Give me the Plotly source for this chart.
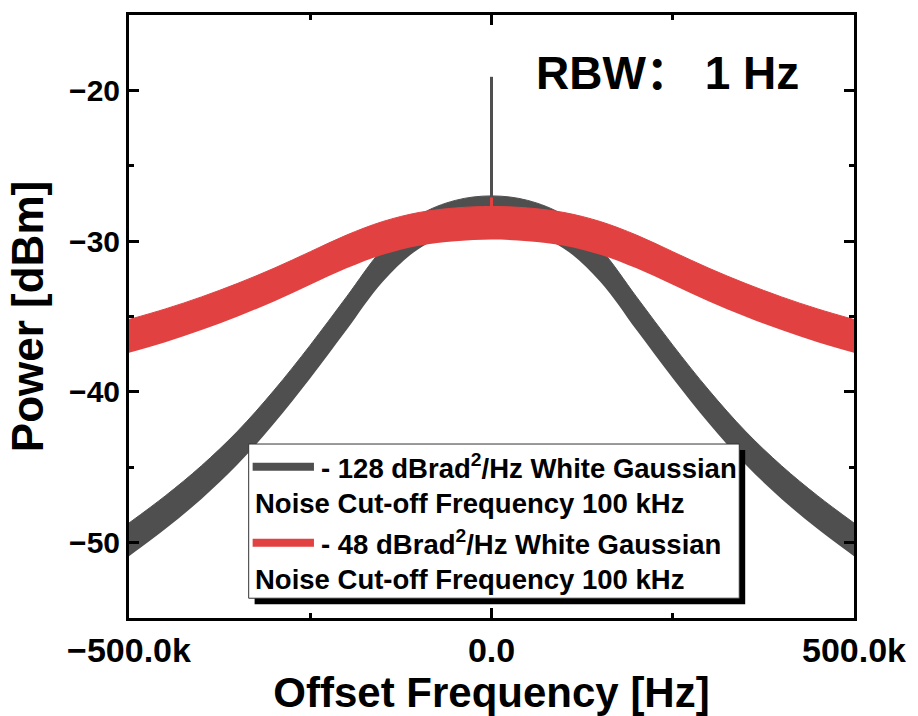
import plotly.graph_objects as go

# Offset frequency grid (kHz) and centre level of each noisy trace (dBm)
freq_khz = [-500, -450, -400, -350, -300, -250, -200, -150, -100, -50, 0,
            50, 100, 150, 200, 250, 300, 350, 400, 450, 500]
grey_level = [-49.8, -48.0, -46.0, -43.7, -41.0, -38.0, -34.8, -31.6, -29.4, -28.4, -28.1,
              -28.4, -29.4, -31.6, -34.8, -38.0, -41.0, -43.7, -46.0, -48.0, -49.8]
red_level = [-36.3, -35.6, -34.8, -33.9, -32.9, -31.8, -30.7, -29.8, -29.2, -28.9, -28.8,
             -28.9, -29.2, -29.8, -30.7, -31.8, -32.9, -33.9, -34.8, -35.6, -36.3]
# Peak-to-peak spread of the measured noise (dB)
grey_spread = 2.2
red_spread = 2.2
# Carrier spike at zero offset (dBm)
grey_spike_peak = -19.1
red_spike_peak = -27.1

# Axis ticks
x_tickvals = [-500000, 0, 500000]
x_ticktext = ["\u2212500.0k", "0.0", "500.0k"]
y_tickvals = [-50, -40, -30, -20]
y_ticktext = ["\u221250", "\u221240", "\u221230", "\u221220"]

legend_lines = [
    "- 128 dBrad<sup>2</sup>/Hz White Gaussian",
    "Noise Cut-off Frequency 100 kHz",
    "- 48 dBrad<sup>2</sup>/Hz White Gaussian",
    "Noise Cut-off Frequency 100 kHz",
]

GREY = "#4f4f4f"
RED = "#e24141"
FONT = "Liberation Sans, Arial, Noto Sans CJK SC, sans-serif"

W, H = 918, 716
L, R, T, B = 129, 862, 13, 623  # plot area in pixels


def px(x):
    return (x - L) / (R - L)


def py(y):
    return (B - y) / (B - T)


freq_hz = [f * 1000 for f in freq_khz]

fig = go.Figure()


def add_band(levels, spread, color):
    lower = [v - spread / 2 for v in levels]
    upper = [v + spread / 2 for v in levels]
    fig.add_trace(go.Scatter(x=freq_hz, y=lower, mode="lines",
                             line=dict(width=0, color=color, shape="spline"),
                             hoverinfo="skip", showlegend=False))
    fig.add_trace(go.Scatter(x=freq_hz, y=upper, mode="lines", fill="tonexty",
                             fillcolor=color,
                             line=dict(width=1, color=color, shape="spline"),
                             hoverinfo="skip", showlegend=False))


def add_spike(level, peak, color, width):
    fig.add_trace(go.Scatter(x=[0, 0], y=[level, peak], mode="lines",
                             line=dict(width=width, color=color),
                             hoverinfo="skip", showlegend=False))


centre = freq_khz.index(0)
add_band(grey_level, grey_spread, GREY)
add_spike(grey_level[centre], grey_spike_peak, GREY, 3)
add_band(red_level, red_spread, RED)
add_spike(red_level[centre], red_spike_peak, RED, 3)

axis_common = dict(
    showline=True, linecolor="black", linewidth=3, mirror="allticks",
    ticks="inside", ticklen=10, tickwidth=3, tickcolor="black",
    showgrid=False, zeroline=False,
)

fig.update_xaxes(
    range=[-500000, 500000], tickmode="array", tickvals=x_tickvals, ticktext=x_ticktext,
    tickfont=dict(family=FONT, size=34, color="black", weight="bold"),
    minor=dict(tickmode="array", tickvals=[-250000, 250000], ticks="inside",
               ticklen=5, tickwidth=3, tickcolor="black"),
    title=dict(text="Offset Frequency [Hz]", standoff=6,
               font=dict(family=FONT, size=42, color="black", weight="bold")),
    **axis_common,
)
fig.update_yaxes(
    range=[-55, -15], tickmode="array", tickvals=y_tickvals, ticktext=y_ticktext,
    tickfont=dict(family=FONT, size=30, color="black", weight="bold"),
    minor=dict(tickmode="array", tickvals=[-45, -35, -25], ticks="inside",
               ticklen=5, tickwidth=3, tickcolor="black"),
    title=dict(text="Power [dBm]", standoff=12,
               font=dict(family=FONT, size=44, color="black", weight="bold")),
    **axis_common,
)

# Legend box with drop shadow, drawn by hand
shapes = [
    dict(type="rect", xref="paper", yref="paper",
         x0=px(256), x1=px(752), y0=py(609), y1=py(453),
         fillcolor="black", line=dict(width=0), layer="above"),
    dict(type="rect", xref="paper", yref="paper",
         x0=px(250), x1=px(746), y0=py(603), y1=py(447),
         fillcolor="white", line=dict(width=1, color="#333333"), layer="above"),
    dict(type="line", xref="paper", yref="paper",
         x0=px(254), x1=px(316), y0=py(470), y1=py(470),
         line=dict(width=8, color=GREY), layer="above"),
    dict(type="line", xref="paper", yref="paper",
         x0=px(254), x1=px(316), y0=py(547), y1=py(547),
         line=dict(width=8, color=RED), layer="above"),
]

legend_pos = [(321, 470), (254, 507), (321, 547), (254, 584)]
annotations = []
for text, (x, y) in zip(legend_lines, legend_pos):
    annotations.append(dict(
        text=text, xref="paper", yref="paper", x=px(x), y=py(y),
        xanchor="left", yanchor="middle", showarrow=False,
        font=dict(family=FONT, size=27.5, color="black", weight="bold"),
    ))

annotations.append(dict(
    text="RBW\uff1a 1 Hz", xref="paper", yref="paper", x=px(673), y=py(72),
    xanchor="center", yanchor="middle", showarrow=False,
    font=dict(family=FONT, size=46, color="black", weight="bold"),
))

fig.update_layout(
    width=W, height=H,
    margin=dict(l=L, r=W - R, t=T, b=H - B),
    paper_bgcolor="white", plot_bgcolor="white",
    showlegend=False,
    shapes=shapes, annotations=annotations,
    font=dict(family=FONT, color="black"),
)

fig.write_html("out.html")
